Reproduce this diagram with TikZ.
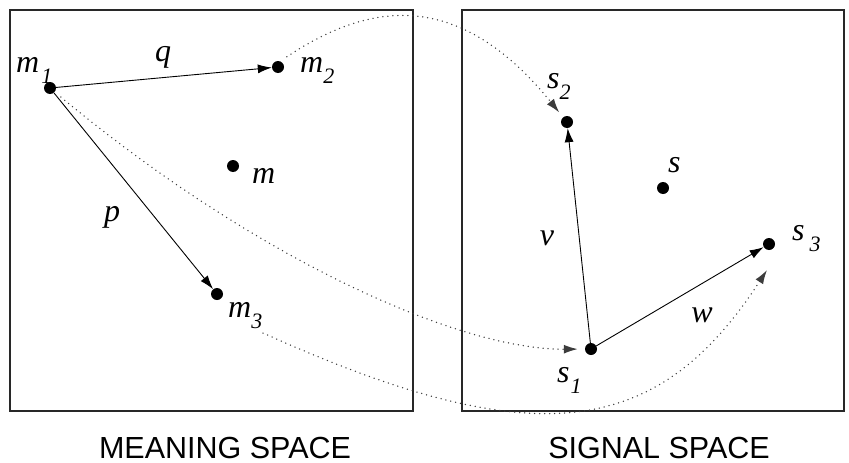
\documentclass[tikz,border=0pt]{standalone}
\usepackage{fontspec}
\setmainfont{Liberation Serif}
\newfontfamily\capfont{Liberation Sans}
\usepackage{tikz}
\usetikzlibrary{arrows.meta}
\definecolor{framegray}{RGB}{40,40,40}
\definecolor{linkgray}{RGB}{60,60,60}
% italic letter with a lowered italic index
\newcommand{\sublab}[3][1pt]{{\fontsize{32}{32}\selectfont\itshape #2}\kern#1\raisebox{-11pt}{\fontsize{22}{22}\selectfont\itshape #3}}
\tikzset{
  dotnode/.style={circle,fill=black,inner sep=0pt,minimum size=12pt},
  lab/.style={inner sep=0pt,font=\fontsize{32}{32}\selectfont\itshape},
  vec/.style={->,line width=0.9pt},
  link/.style={->,linkgray,line width=1.5pt,line cap=round,dash pattern=on 0pt off 5pt},
  spacebox/.style={draw=framegray,line width=1.2pt},
  spacecap/.style={inner sep=0pt,font=\capfont\fontsize{30.5}{30.5}\selectfont}
}

\begin{document}
\begin{tikzpicture}[x=1pt,y=-1pt,>={Latex[length=14pt,width=9pt]}]
  \useasboundingbox (0,0) rectangle (849,463);
  % the two spaces
  \draw[spacebox] (10,10) rectangle (413,411);
  \draw[spacebox] (462,10) rectangle (844,411);
  \node[spacecap,anchor=base] (mcap) at (225,458) {MEANING SPACE};
  \node[spacecap,anchor=base] (scap) at (659,458) {SIGNAL SPACE};
  % meanings
  \node[dotnode] (m1) at (50,88) {};
  \node[dotnode] (m2) at (278,67) {};
  \node[dotnode] (m)  at (233,166) {};
  \node[dotnode] (m3) at (217,294) {};
  \node[lab,anchor=base west] (m1lab) at (16,72) {\sublab[2pt]{m}{1}};
  \node[lab,anchor=base west] (m2lab) at (300,72) {\sublab[0pt]{m}{2}};
  \node[lab,anchor=base west] (mlab)  at (252,183) {m};
  \node[lab,anchor=base west] (m3lab) at (228,317) {\sublab[0pt]{m}{3}};
  \node[lab] (qlab) at (163,57) {q};
  \node[lab] (plab) at (112,217) {p};
  % signals
  \node[dotnode] (s1) at (591,349) {};
  \node[dotnode] (s2) at (567,122) {};
  \node[dotnode] (s)  at (663,188) {};
  \node[dotnode] (s3) at (769,244) {};
  \node[lab,anchor=base west] (s1lab) at (557,382) {\sublab[1pt]{s}{1}};
  \node[lab,anchor=base west] (s2lab) at (547,88) {\sublab[0pt]{s}{2}};
  \node[lab,anchor=base west] (slab)  at (668,172) {s};
  \node[lab,anchor=base west] (s3lab) at (792,240) {\sublab[5pt]{s}{3}};
  \node[lab] (vlab) at (547,238) {v};
  \node[lab] (wlab) at (702,315) {w};
  % differences inside each space
  \draw[vec] (m1) -- (m2);
  \draw[vec] (m1) -- (m3);
  \draw[vec] (s1) -- (s2);
  \draw[vec] (s1) -- (s3);
  % mapping from meanings to signals
  \coordinate (m3out) at (263,333);
  \coordinate (s3in) at (767,270);
  \draw[link,shorten <=8pt,shorten >=6pt] (m2.70) .. controls (365,5) and (455,-16) .. (s2);
  \draw[link,shorten <=8pt,shorten >=7pt] (m1) .. controls (253,257) and (458,350) .. (s1);
  \draw[link] (m3out) .. controls (536,456) and (658,438) .. (s3in);
\end{tikzpicture}
\end{document}
